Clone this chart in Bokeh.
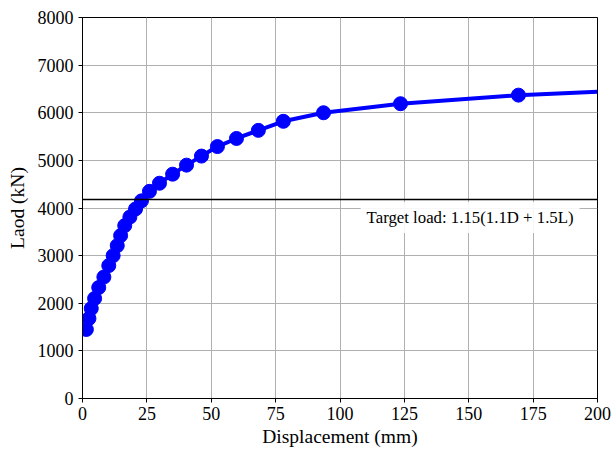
from bokeh.plotting import figure
from bokeh.models import Span, Label, FixedTicker, Range1d
from bokeh.embed import file_html
from bokeh.resources import INLINE

disp = [1.5, 2.5, 3.4, 4.7, 6.3, 8.3, 10.2, 11.9, 13.5, 14.8, 16.4, 18.4,
        20.6, 22.9, 26.0, 29.9, 35.0, 40.4, 46.2, 52.4, 59.8, 68.3, 78.0,
        93.6, 123.5, 169.3]
load = [1450, 1680, 1890, 2100, 2330, 2550, 2790, 3000, 3210, 3420, 3630, 3810,
        3980, 4150, 4350, 4520, 4710, 4900, 5090, 5290, 5460, 5630, 5820,
        6000, 6190, 6370]
tail_disp = [200.0]
tail_load = [6440]
target_load = 4180
target_text = "Target load: 1.15(1.1D + 1.5L)"
x_ticks = [0, 25, 50, 75, 100, 125, 150, 175, 200]
y_ticks = [0, 1000, 2000, 3000, 4000, 5000, 6000, 7000, 8000]

FONT = "Liberation Serif"

p = figure(width=614, height=450, output_backend="svg", toolbar_location=None,
           x_range=Range1d(0, 200), y_range=Range1d(0, 8000),
           x_axis_label="Displacement (mm)", y_axis_label="Laod (kN)",
           min_border_left=82, min_border_right=17, min_border_top=17,
           min_border_bottom=52)
p.background_fill_color = "white"
p.border_fill_color = "white"
p.outline_line_color = "black"
p.outline_line_width = 1

p.axis.major_label_text_font = FONT
p.axis.major_label_text_font_size = "18px"
p.axis.major_label_text_color = "black"
p.axis.axis_label_text_font = FONT
p.axis.axis_label_text_font_size = "19.5px"
p.axis.axis_label_text_font_style = "normal"
p.axis.axis_label_text_color = "black"
p.axis.axis_line_color = "black"
p.axis.major_tick_line_color = "black"
p.axis.major_tick_out = 4
p.axis.major_tick_in = 0
p.axis.minor_tick_line_color = None

p.xaxis.ticker = FixedTicker(ticks=x_ticks)
p.yaxis.ticker = FixedTicker(ticks=y_ticks)
p.xaxis.axis_label_standoff = 3
p.yaxis.axis_label_standoff = 7
p.xaxis.major_label_standoff = 4
p.yaxis.major_label_standoff = 5

p.xgrid.ticker = FixedTicker(ticks=x_ticks)
p.ygrid.ticker = FixedTicker(ticks=y_ticks)
p.grid.grid_line_color = "#b0b0b0"
p.grid.grid_line_width = 1

p.add_layout(Span(location=target_load, dimension="width",
                  line_color="black", line_width=1.5))

p.line(disp + tail_disp, load + tail_load, line_color="blue", line_width=4)
p.scatter(disp, load, size=14, fill_color="blue", line_color="blue")

p.add_layout(Label(x=108.0, y=3800, text=target_text,
                   text_font=FONT, text_font_size="16.8px", text_color="black",
                   text_align="left", text_baseline="middle",
                   background_fill_color="white", background_fill_alpha=0.9,
                   border_line_color=None,
                   padding=6))

open("out.html", "w").write(file_html(p, INLINE))
